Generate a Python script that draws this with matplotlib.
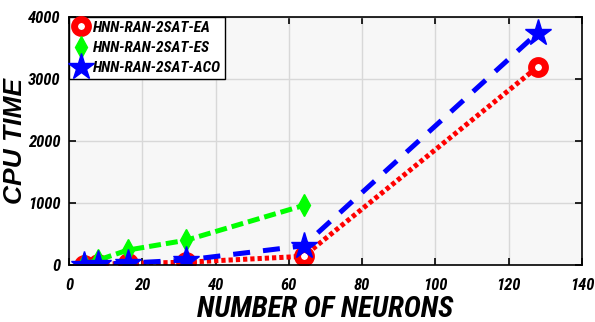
import matplotlib.pyplot as plt
import numpy as np
from matplotlib import font_manager

plt.rcParams['font.family'] = ['Liberation Sans', 'DejaVu Sans']
names = {f.name for f in font_manager.fontManager.ttflist}
narrow = 'Liberation Sans'
for cand in ['Liberation Sans Narrow', 'Roboto Condensed', 'Archivo Narrow']:
    if cand in names:
        narrow = cand
        break

neurons = np.array([4, 8, 16, 32, 64, 128])
cpu_ea = np.array([5, 10, 25, 45, 140, 3200])
neurons_es = np.array([4, 8, 16, 32, 64])
cpu_es = np.array([10, 80, 240, 400, 960])
cpu_aco = np.array([8, 15, 30, 80, 310, 3750])

fig = plt.figure(figsize=(5.95, 3.22), dpi=100)
ax = fig.add_axes([69/595, 1-265/322, 513/595, 248/322])
ax.set_facecolor('#f7f7f7')

lw = 3.6
ax.plot(neurons, cpu_ea, color='red', lw=lw, dashes=(0.85, 0.6), marker='o', ms=10,
        mfc='white', mec='red', mew=5, label='HNN-RAN-2SAT-EA')
ax.plot(neurons_es, cpu_es, color='#00ff00', lw=lw, dashes=(2.4, 1.0), marker='d', ms=11,
        mfc='#00ff00', mec='#00ff00', label='HNN-RAN-2SAT-ES')
ax.plot(neurons, cpu_aco, color='blue', lw=lw, dashes=(3.4, 2.6), marker='*', ms=20,
        mfc='blue', mec='blue', label='HNN-RAN-2SAT-ACO')

ax.set_xlim(0, 140)
ax.set_ylim(0, 4000)
ax.set_xticks(np.arange(0, 141, 20))
ax.set_yticks(np.arange(0, 4001, 1000))
ax.grid(color='#d8d8d8', lw=1)
ax.set_axisbelow(True)
ax.tick_params(direction='in', top=True, right=True, length=5, width=1.2)
ax.tick_params(axis='x', pad=9)
ax.tick_params(axis='y', pad=6)
for lab in ax.get_xticklabels() + ax.get_yticklabels():
    lab.set_fontfamily(narrow)
    lab.set_fontweight('bold')
    lab.set_fontstyle('italic')
    lab.set_fontsize(12)
for s in ax.spines.values():
    s.set_linewidth(1.2)

ax.set_xlabel('NUMBER OF NEURONS', fontsize=21, fontweight='bold', style='italic',
              family=narrow, labelpad=2)
ax.set_ylabel('CPU TIME', fontsize=19, fontweight='bold', style='italic', labelpad=1)

leg = ax.legend(loc='upper left', borderaxespad=0, handlelength=1.1,
                handletextpad=0.2, borderpad=0.25, labelspacing=0.4,
                fancybox=False, edgecolor='black', framealpha=1,
                prop={'weight': 'bold', 'style': 'italic', 'size': 11, 'family': narrow})
for h in leg.get_lines():
    h.set_linestyle('none')

fig.savefig('out.png', dpi=100)
